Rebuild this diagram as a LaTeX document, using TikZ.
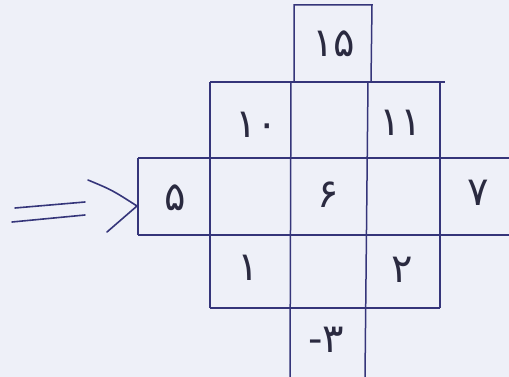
\documentclass[tikz,border=0pt]{standalone}
\usepackage{fontspec}
\newfontfamily\fa{DejaVu Sans}
\definecolor{ink}{HTML}{35357A}
\definecolor{txt}{HTML}{2A2A40}
\definecolor{paper}{HTML}{EEF0F8}
\begin{document}
\begin{tikzpicture}[x=1pt,y=-1pt,
  grid/.style={draw=ink,line width=1.5pt},
  lab/.style={text=txt,font=\fa\fontsize{40}{40}\selectfont,inner sep=0pt}]
\fill[paper] (0,0) rectangle (509,377);
\useasboundingbox (0,0) rectangle (509,377);
% grid
\draw[grid] (294,82) -- (294,5) -- (372,5) -- (371,82);
\draw[grid] (210,82) -- (445,82);
\draw[grid] (138,158) -- (509,158);
\draw[grid] (138,235) -- (509,235);
\draw[grid] (210,308) -- (440,308);
\draw[grid] (138,158) -- (138,235);
\draw[grid] (210,82) -- (210,308);
\draw[grid] (440,82) -- (440,308);
\draw[grid] (291,82) -- (290,377);
\draw[grid] (368,82) -- (365,377);
% labels
\node[lab] (n15) at (334,44) {۱۵};
\node[lab] (n10) at (257,125) {۱۰};
\node[lab] (n11) at (401,123) {۱۱};
\node[lab] (n5) at (175,198) {۵};
\node[lab] (n6) at (328,195) {۶};
\node[lab] (n7) at (478,193) {۷};
\node[lab] (n1) at (248,268) {۱};
\node[lab] (n2) at (402,270) {۲};
\node[lab] (n3) at (326,340) {-۳};
% arrow
\coordinate (tip) at (137,206);
\coordinate (a1) at (88,180);
\coordinate (a2) at (107,232);
\draw[ink,line width=1.6pt,line cap=round] (15,208) -- (85,202);
\draw[ink,line width=1.6pt,line cap=round] (12,222) -- (85,215);
\draw[ink,line width=1.6pt,line cap=round,line join=round] (a1) .. controls (112,190) .. (tip) -- (a2);
\end{tikzpicture}
\end{document}
